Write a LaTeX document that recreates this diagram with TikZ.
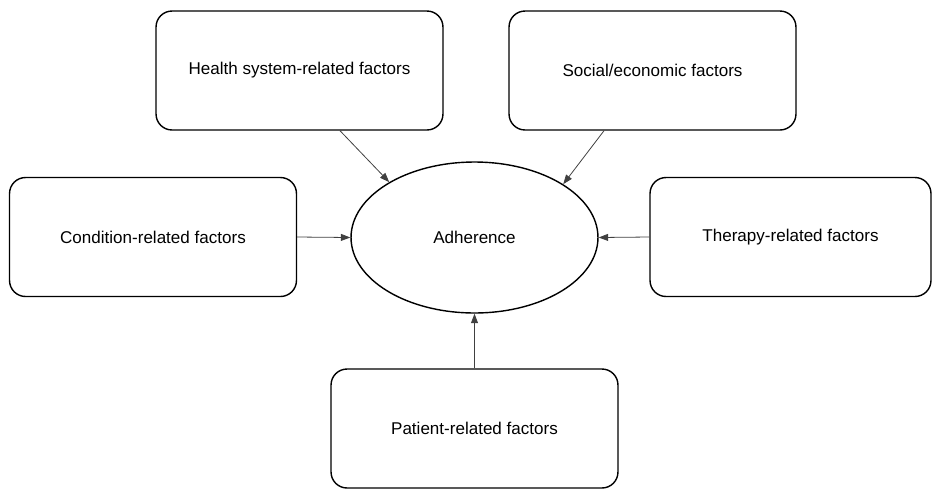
\documentclass[tikz,border=0pt]{standalone}
\usepackage{fontspec}
\setmainfont{Liberation Sans}
\usetikzlibrary{arrows.meta, shapes.geometric}

\tikzset{
    factor/.style={draw, line width=0.8pt, rounded corners=0.32cm, minimum width=5.74cm, minimum height=2.38cm, align=center, font=\fontsize{9.7}{12}\selectfont},
    centre/.style={draw, ellipse, line width=0.8pt, minimum width=4.94cm, minimum height=3.02cm, font=\fontsize{9.7}{12}\selectfont},
    link/.style={-{Triangle[length=0.19cm, width=0.14cm]}, line width=0.45pt, black!75}
}

\begin{document}
\begin{tikzpicture}[x=0.02cm, y=-0.02cm]
    % Fixing the page size
    \useasboundingbox (0,0) rectangle (933,488);

    % Drawing the central ellipse
    \node[centre] (adh) at (474.5,237.5) {Adherence};

    % Drawing the factor boxes
    \node[factor] (health) at (299.5,70.5) {Health system-related factors};
    \node[factor] (social) at (652.5,70.5) {Social/economic factors};
    \node[factor] (cond) at (153,237) {Condition-related factors};
    \node[factor, minimum width=5.62cm] (therapy) at (790.5,237) {Therapy-related factors};
    \node[factor] (patient) at (474.5,428.5) {Patient-related factors};

    % Drawing the arrows into the ellipse
    \draw[link] ([xshift=0.81cm]health.south) -- (adh.147.8);
    \draw[link] ([xshift=-0.97cm]social.south) -- (adh.31.8);
    \draw[link] (cond.east) -- (adh.west);
    \draw[link] (therapy.west) -- (adh.east);
    \draw[link] (patient.north) -- (adh.south);

\end{tikzpicture}
\end{document}
